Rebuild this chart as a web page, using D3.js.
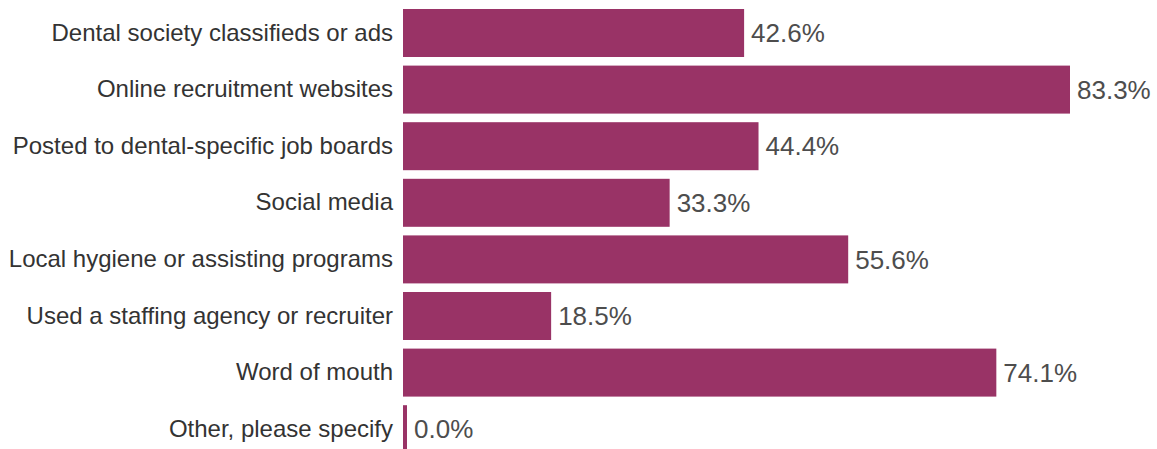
<!DOCTYPE html>
<html><head><meta charset="utf-8">
<script src="https://cdn.jsdelivr.net/npm/d3@7/dist/d3.min.js"></script>
<style>
html,body{margin:0;padding:0;background:#fff;overflow:hidden;}
text{font-family:"Liberation Sans",Arial,sans-serif;}
</style></head>
<body><svg id="chart" width="1157" height="449"></svg>
<script>
const categories = [
  "Dental society classifieds or ads",
  "Online recruitment websites",
  "Posted to dental-specific job boards",
  "Social media",
  "Local hygiene or assisting programs",
  "Used a staffing agency or recruiter",
  "Word of mouth",
  "Other, please specify"
];
const values = [42.6, 83.3, 44.4, 33.3, 55.6, 18.5, 74.1, 0.0];

const svg = d3.select("#chart");
const x0 = 403;
const x = d3.scaleLinear().domain([0, 83.3]).range([x0, 1070]);
const y = d3.scaleBand().domain(categories).range([4.7, 4.7 + 8 * 56.6]).paddingInner(0.152).paddingOuter(0.076);
const color = "#993366";

const g = svg.append("g");
g.selectAll("rect").data(values).enter().append("rect")
  .attr("x", x0)
  .attr("y", (d, i) => y(categories[i]))
  .attr("width", d => Math.max(4, x(d) - x0))
  .attr("height", y.bandwidth())
  .attr("fill", color);

g.selectAll("text.val").data(values).enter().append("text")
  .attr("class", "val")
  .attr("x", d => x0 + Math.max(4, x(d) - x0) + 7)
  .attr("y", (d, i) => y(categories[i]) + y.bandwidth() / 2)
  .attr("dy", "0.35em")
  .attr("font-size", 26)
  .attr("fill", "#4d4d4d")
  .text(d => d.toFixed(1) + "%");

const yAxis = d3.axisLeft(y).tickSize(0).tickPadding(10);
const ax = svg.append("g").attr("transform", `translate(${x0},0)`).call(yAxis);
ax.select(".domain").remove();
ax.selectAll("text").attr("font-size", 24).attr("fill", "#333333")
  .style("font-family", '"Liberation Sans",Arial,sans-serif');
</script></body></html>
